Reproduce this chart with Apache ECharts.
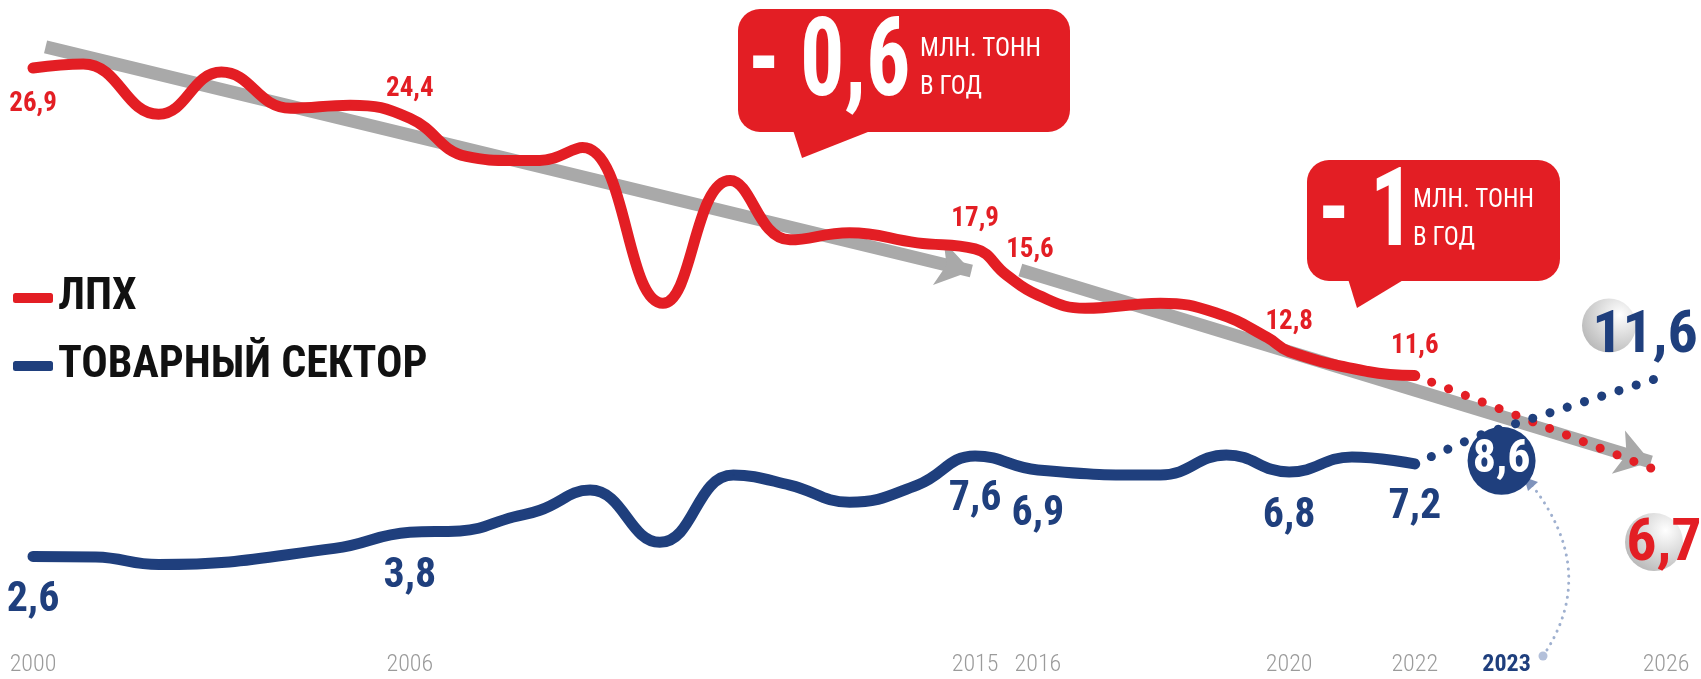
<!DOCTYPE html>
<html>
<head>
<meta charset="utf-8">
<script src="https://cdn.jsdelivr.net/npm/echarts@6/dist/echarts.min.js"></script>
<style>
  html, body { margin: 0; padding: 0; background: #fff; }
  #container { width: 1701px; height: 679px; }
</style>
</head>
<body>
<div id="container"></div>
<script>
var FONT = "'Noto Sans Condensed', 'Roboto Condensed', Roboto, sans-serif";
var RED = '#e31e24';
var NAVY = '#1f3f7d';
var GRAY = '#a9a9a9';

// years shown under the axis
var tickYears = [2000, 2006, 2015, 2016, 2020, 2022, 2023, 2026];
// points that carry a value label
var labelYears = [2000, 2006, 2015, 2016, 2020, 2022];

// ЛПХ
var redYears  = [2000, 2000.8, 2002.0, 2003.0, 2004.1, 2005.05, 2006, 2006.9, 2007.65, 2008.07, 2008.75, 2010.03, 2011.1, 2012.05, 2013.0, 2014.08, 2015, 2015.5, 2016, 2016.75, 2017.95, 2018.85, 2019.65, 2020, 2021.25, 2022];
var redValues = [26.9, 27.1, 24.6, 26.7, 24.9, 25.05, 24.4, 22.5, 22.3, 22.3, 22.95, 15.2, 21.3, 18.35, 18.7, 18.2, 17.9, 16.6, 15.6, 14.95, 15.2, 14.7, 13.5, 12.8, 11.8, 11.6];

// товарный сектор
var blueYears  = [2000, 2001.0, 2002.0, 2004.8, 2006, 2006.8, 2007.65, 2008.07, 2008.87, 2009.98, 2011.15, 2012.05, 2013.0, 2014.08, 2015, 2016, 2017.95, 2019.0, 2020, 2021.0, 2022];
var blueValues = [2.6, 2.57, 2.2, 3.0, 3.8, 3.87, 4.56, 4.9, 5.9, 3.3, 6.65, 6.15, 5.3, 6.15, 7.6, 6.9, 6.65, 7.65, 6.8, 7.55, 7.2];

// forecast
var redForecastYears  = [2022, 2026];
var redForecastValues = [11.6, 6.7];
var blueForecastYears  = [2022, 2023, 2026];
var blueForecastValues = [7.2, 8.6, 11.6];

// grey trend arrows
var trend1Years = [2000.2, 2014.94];
var trend1Values = [27.95, 16.8];
var trend2Years = [2015.72, 2025.76];
var trend2Values = [16.85, 7.3];

var callouts = [
    { big: '- 0,6', unit: 'МЛН. ТОНН', per: 'В ГОД' },
    { big: '- 1', unit: 'МЛН. ТОНН', per: 'В ГОД' }
];

function fmt(v) {
    return String(v).replace('.', ',');
}

var myChart = echarts.init(document.getElementById('container'));

var redData = redYears.map(function (y, i) {
    var item = { value: [y, redValues[i]] };
    if (labelYears.indexOf(y) >= 0) {
        item.label = { show: true };
        if (y === 2000) item.label = { show: true, position: 'bottom', distance: 22 };
        if (y === 2016) item.label = { show: true, distance: 30, offset: [-8, 0] };
    }
    return item;
});

var blueData = blueYears.map(function (y, i) {
    var item = { value: [y, blueValues[i]] };
    if (labelYears.indexOf(y) >= 0) item.label = { show: true };
    return item;
});

var blueForecastData = blueForecastYears.map(function (y, i) {
    if (y === 2023) {
        return {
            value: [y, blueForecastValues[i]],
            symbol: 'circle',
            symbolSize: 68,
            symbolOffset: [24, 25],
            itemStyle: { color: NAVY },
            label: {
                show: true, position: 'inside', color: '#fff',
                fontFamily: FONT, fontWeight: 'bold', fontSize: 46
            }
        };
    }
    return { value: [y, blueForecastValues[i]], symbol: 'none' };
});

function ball(color) {
    return {
        type: 'radial', x: 0.7, y: 0.3, r: 0.8,
        colorStops: [{ offset: 0, color: '#ffffff' }, { offset: 1, color: color }]
    };
}

var bigText = { fill: '#fff', fontFamily: FONT, fontWeight: 'bold', fontSize: 110, textVerticalAlign: 'middle' };
var smallText = { fill: '#fff', fontFamily: FONT, fontSize: 25, textVerticalAlign: 'middle' };

var option = {
    animation: false,
    grid: { left: 33, right: 35, top: 5.7, bottom: 70.3, containLabel: false, outerBoundsMode: 'none' },
    legend: {
        data: ['ЛПХ', 'ТОВАРНЫЙ СЕКТОР'],
        orient: 'vertical',
        left: 8,
        top: 269,
        icon: 'roundRect',
        itemWidth: 40,
        itemHeight: 10,
        itemGap: 20,
        selectedMode: false,
        textStyle: { fontFamily: FONT, fontWeight: 'bold', fontSize: 44, lineHeight: 48, color: '#111' }
    },
    xAxis: {
        type: 'value',
        min: 2000,
        max: 2026,
        interval: 1,
        axisLine: { show: false },
        axisTick: { show: false },
        splitLine: { show: false },
        axisLabel: {
            margin: 44,
            color: '#9b9b9b',
            fontFamily: FONT,
            fontWeight: 300,
            fontSize: 24,
            formatter: function (v) {
                if (tickYears.indexOf(v) < 0) return '';
                return v === 2023 ? '{hi|' + v + '}' : String(v);
            },
            rich: {
                hi: { color: NAVY, fontFamily: FONT, fontWeight: 'bold', fontSize: 24, padding: [0, 0, 0, 58] }
            }
        }
    },
    yAxis: { type: 'value', min: 0, max: 30, show: false, splitLine: { show: false } },
    graphic: [
        { type: 'rect', z: 10, shape: { x: 738, y: 9, width: 332, height: 123, r: 22 }, style: { fill: RED } },
        { type: 'polygon', z: 10, shape: { points: [[793, 130], [873, 130], [802, 158]] }, style: { fill: RED } },
        { type: 'text', z: 11, x: 748, y: 67, scaleX: 0.8, style: Object.assign({ text: callouts[0].big }, bigText) },
        { type: 'text', z: 11, x: 920, y: 50, style: Object.assign({ text: callouts[0].unit }, smallText) },
        { type: 'text', z: 11, x: 920, y: 88, style: Object.assign({ text: callouts[0].per }, smallText) },

        { type: 'rect', z: 10, shape: { x: 1307, y: 160, width: 253, height: 121, r: 22 }, style: { fill: RED } },
        { type: 'polygon', z: 10, shape: { points: [[1348, 279], [1405, 279], [1357, 308]] }, style: { fill: RED } },
        { type: 'text', z: 11, x: 1318, y: 217, scaleX: 0.8, style: Object.assign({ text: callouts[1].big }, bigText) },
        { type: 'text', z: 11, x: 1413, y: 201, style: Object.assign({ text: callouts[1].unit }, smallText) },
        { type: 'text', z: 11, x: 1413, y: 239, style: Object.assign({ text: callouts[1].per }, smallText) },

        // dotted pointer from the 2023 label to the circle
        { type: 'bezierCurve', z: 2, shape: { x1: 1543, y1: 656, x2: 1531, y2: 484, cpx1: 1600, cpy1: 572 },
          style: { stroke: '#9fb0cf', lineWidth: 3, lineDash: [0.1, 7], lineCap: 'round', fill: null } },
        { type: 'circle', z: 2, shape: { cx: 1543, cy: 656, r: 4.5 }, style: { fill: '#b3c0da' } },
        { type: 'polygon', z: 2, shape: { points: [[1524, 477], [1538, 482], [1528, 491]] }, style: { fill: '#7f93bb' } }
    ],
    series: [
        {
            name: 'trend',
            type: 'line',
            data: [],
            z: 1,
            markLine: {
                z: 1,
                silent: true,
                animation: false,
                symbol: ['none', 'arrow'],
                symbolSize: 34,
                label: { show: false },
                lineStyle: { color: GRAY, width: 13, type: 'solid', cap: 'butt' },
                emphasis: { disabled: true },
                data: [
                    [{ coord: [trend1Years[0], trend1Values[0]] }, { coord: [trend1Years[1], trend1Values[1]] }],
                    [{ coord: [trend2Years[0], trend2Values[0]] }, { coord: [trend2Years[1], trend2Values[1]] }]
                ]
            }
        },
        {
            name: 'ЛПХ',
            type: 'line',
            z: 3,
            smooth: 0.45,
            symbol: 'circle',
            symbolSize: 2,
            itemStyle: { color: RED },
            lineStyle: { color: RED, width: 11, cap: 'round' },
            label: {
                show: false, position: 'top', distance: 15, color: RED,
                fontFamily: FONT, fontWeight: 'bold', fontSize: 27,
                formatter: function (p) { return fmt(p.value[1]); }
            },
            data: redData
        },
        {
            name: 'ТОВАРНЫЙ СЕКТОР',
            type: 'line',
            z: 3,
            smooth: 0.45,
            symbol: 'circle',
            symbolSize: 2,
            itemStyle: { color: NAVY },
            lineStyle: { color: NAVY, width: 11, cap: 'round' },
            label: {
                show: false, position: 'bottom', distance: 22, color: NAVY,
                fontFamily: FONT, fontWeight: 'bold', fontSize: 42,
                formatter: function (p) { return fmt(p.value[1]); }
            },
            data: blueData
        },
        {
            name: 'ЛПХ прогноз',
            type: 'line',
            z: 3,
            symbol: 'none',
            lineStyle: { color: RED, width: 9, type: [0.1, 18], cap: 'round' },
            data: redForecastYears.map(function (y, i) { return [y, redForecastValues[i]]; }),
            markPoint: {
                silent: true,
                animation: false,
                data: [{
                    coord: [redForecastYears[1], redForecastValues[1]],
                    value: redForecastValues[1],
                    symbol: 'circle',
                    symbolSize: 58,
                    symbolOffset: [-12, 68],
                    itemStyle: { color: ball('#b8b8b8') },
                    label: {
                        show: true, position: 'inside', offset: [10, 3],
                        color: RED, fontFamily: FONT, fontWeight: 'bold', fontSize: 60,
                        formatter: function (p) { return fmt(p.value); }
                    }
                }]
            }
        },
        {
            name: 'товарный прогноз',
            type: 'line',
            z: 4,
            lineStyle: { color: NAVY, width: 9, type: [0.1, 18], cap: 'round' },
            label: { formatter: function (p) { return fmt(p.value[1]); } },
            data: blueForecastData,
            markPoint: {
                silent: true,
                animation: false,
                data: [{
                    coord: [blueForecastYears[2], blueForecastValues[2]],
                    value: blueForecastValues[2],
                    symbol: 'circle',
                    symbolSize: 54,
                    symbolOffset: [-57, -50],
                    itemStyle: { color: ball('#b8b8b8') },
                    label: {
                        show: true, position: 'inside', offset: [36, 11],
                        color: NAVY, fontFamily: FONT, fontWeight: 'bold', fontSize: 60,
                        formatter: function (p) { return fmt(p.value); }
                    }
                }]
            }
        }
    ]
};

myChart.setOption(option);
</script>
</body>
</html>
